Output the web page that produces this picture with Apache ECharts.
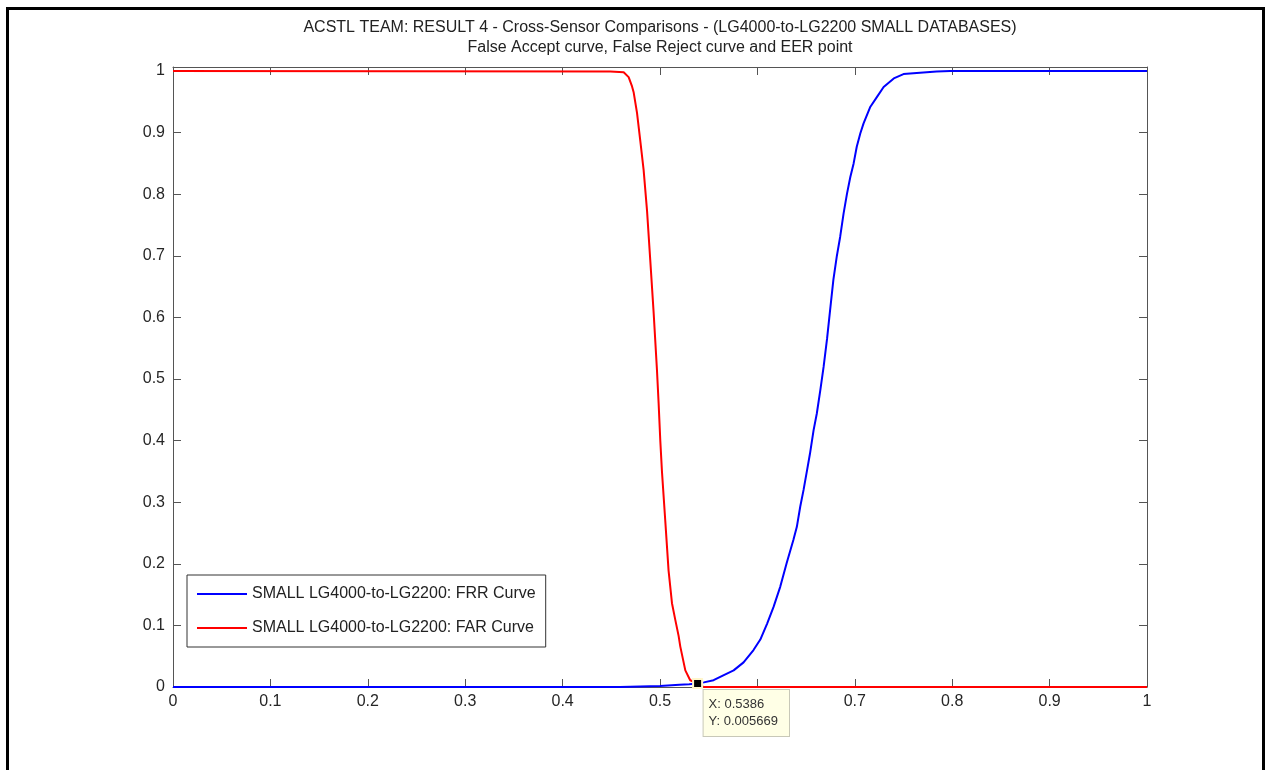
<!DOCTYPE html>
<html>
<head>
<meta charset="utf-8">
<script src="https://cdn.jsdelivr.net/npm/echarts@6/dist/echarts.min.js"></script>
<style>
  html, body { margin: 0; padding: 0; background: #fff; }
  #main { width: 1267px; height: 770px; }
</style>
</head>
<body>
<div id="main"></div>
<script>
    // FRR 曲线 (蓝)
    var frrX = [0, 0.459, 0.46, 0.5, 0.501, 0.52, 0.53, 0.5386, 0.545, 0.555, 0.565, 0.5756, 0.5858, 0.596, 0.603,
        0.61, 0.6166, 0.6235, 0.63, 0.637, 0.6405, 0.644, 0.6474, 0.651, 0.654, 0.6577, 0.661, 0.6646, 0.668,
        0.6715, 0.675, 0.678, 0.6815, 0.685, 0.6885, 0.692, 0.6954, 0.6988, 0.702, 0.7057, 0.709, 0.716, 0.7228,
        0.7296, 0.74, 0.75, 0.767, 0.784, 0.798, 1];
    var frrY = [0, 0, 0.0015, 0.0015, 0.003, 0.0035, 0.0045, 0.005669, 0.0075, 0.011, 0.019, 0.027, 0.04, 0.06, 0.077,
        0.103, 0.13, 0.163, 0.201, 0.239, 0.26, 0.293, 0.32, 0.352, 0.379, 0.417, 0.444, 0.482, 0.52,
        0.565, 0.617, 0.661, 0.699, 0.731, 0.769, 0.801, 0.828, 0.85, 0.877, 0.899, 0.915, 0.942, 0.958,
        0.974, 0.988, 0.995, 0.997, 0.999, 1, 1];

    // FAR 曲线 (红)
    var farX = [0, 0.449, 0.4627, 0.4678, 0.4713, 0.473, 0.4764, 0.4798, 0.4832, 0.4867, 0.49, 0.4935, 0.4969,
        0.4986, 0.5003, 0.502, 0.5054, 0.5088, 0.5123, 0.5157, 0.5191, 0.5208, 0.526, 0.531, 0.5386, 0.545, 1];
    var farY = [1, 0.999, 0.998, 0.99, 0.975, 0.965, 0.932, 0.886, 0.839, 0.773, 0.693, 0.607, 0.514,
        0.46, 0.4, 0.35, 0.27, 0.189, 0.136, 0.109, 0.083, 0.066, 0.027, 0.011, 0.005669, 0, 0];

    // EER 点
    var eerX = 0.5386;
    var eerY = 0.005669;

    var seriesNames = ["SMALL LG4000-to-LG2200: FRR Curve", "SMALL LG4000-to-LG2200: FAR Curve"];
    var titleLines = [
        "ACSTL TEAM: RESULT 4 - Cross-Sensor Comparisons - (LG4000-to-LG2200 SMALL DATABASES)",
        "False Accept curve, False Reject curve and EER point"
    ];

    function pairs(xs, ys) {
        return xs.map(function(x, i) { return [x, ys[i]]; });
    }

    var font = "'Liberation Sans', Arial, Helvetica, sans-serif";
    var axisColor = "#555555";
    var textColor = "#262626";

    var myChart = echarts.init(document.getElementById("main"));

    // 只显示 0.1 的整数倍刻度标签
    function tenthLabel(v) {
        var t = v * 10;
        if (Math.abs(t - Math.round(t)) > 1e-6) return "";
        return String(+v.toFixed(1));
    }

    var tickStyle = { show: true, inside: true, length: 8, lineStyle: { color: axisColor, width: 1 } };
    var lineStyleAxis = { show: true, onZero: false, lineStyle: { color: axisColor, width: 1 } };

    myChart.setOption({
        animation: false,
        backgroundColor: "#fff",
        title: {
            text: titleLines.join("\n"),
            left: 660,
            top: 18,
            padding: 0,
            textAlign: "center",
            textStyle: {
                fontFamily: font,
                fontSize: 16,
                fontWeight: "normal",
                color: "#222",
                lineHeight: 20,
            },
        },
        legend: {
            data: [
                { name: seriesNames[0], icon: "rect" },
                { name: seriesNames[1], icon: "rect" },
            ],
            orient: "vertical",
            left: 187,
            top: 575,
            padding: [11, 10, 11, 10],
            itemGap: 18,
            itemWidth: 50,
            itemHeight: 2,
            borderColor: "#333",
            borderWidth: 1,
            backgroundColor: "#fff",
            textStyle: { fontFamily: font, fontSize: 16, lineHeight: 16, color: "#222" },
        },
        grid: { left: 173, right: 120, top: 67, bottom: 83 },
        xAxis: [{
            type: "value",
            position: "bottom",
            min: 0,
            max: 1,
            interval: 0.1,
            z: 1,
            splitLine: { show: false },
            axisLine: lineStyleAxis,
            axisTick: tickStyle,
            axisLabel: { fontFamily: font, fontSize: 16, color: textColor, margin: 7, formatter: tenthLabel },
        }, {
            type: "value",
            position: "top",
            min: 0,
            max: 1,
            interval: 0.1,
            z: 1,
            splitLine: { show: false },
            axisLine: lineStyleAxis,
            axisTick: tickStyle,
            axisLabel: { show: false },
        }],
        yAxis: [{
            type: "value",
            position: "left",
            min: 0,
            max: 1.0065,
            interval: 0.1,
            z: 1,
            splitLine: { show: false },
            axisLine: lineStyleAxis,
            axisTick: tickStyle,
            axisLabel: { fontFamily: font, fontSize: 16, color: textColor, margin: 8, formatter: tenthLabel },
        }, {
            type: "value",
            position: "right",
            min: 0,
            max: 1.0065,
            interval: 0.1,
            z: 1,
            splitLine: { show: false },
            axisLine: lineStyleAxis,
            axisTick: tickStyle,
            axisLabel: { show: false },
        }],
        graphic: [{
            // 外框
            type: "rect",
            shape: { x: 7.5, y: 8.5, width: 1256, height: 800 },
            style: { fill: "none", stroke: "#000", lineWidth: 3 },
            silent: true,
        }],
        series: [{
            name: seriesNames[0],
            type: "line",
            data: pairs(frrX, frrY),
            symbol: "none",
            clip: false,
            lineStyle: { color: "#0000ff", width: 2 },
            itemStyle: { color: "#0000ff" },
            z: 2,
        }, {
            name: seriesNames[1],
            type: "line",
            data: pairs(farX, farY),
            symbol: "none",
            clip: false,
            lineStyle: { color: "#ff0000", width: 2 },
            itemStyle: { color: "#ff0000" },
            z: 3,
        }, {
            // EER 点和数据提示框，放在上层画布，盖住下面的刻度标签
            name: "EER",
            type: "scatter",
            data: [[eerX, eerY]],
            symbol: "rect",
            symbolSize: 9,
            clip: false,
            zlevel: 1,
            itemStyle: { color: "#000", borderColor: "#fff6cc", borderWidth: 2, opacity: 1 },
            label: {
                show: true,
                position: [11.5, 12],
                formatter: "X: " + eerX + "\nY: " + eerY,
                fontFamily: font,
                fontSize: 13,
                lineHeight: 17,
                color: "#333",
                backgroundColor: "#ffffe6",
                borderColor: "#c8c8b8",
                borderWidth: 1,
                padding: [6, 11, 6, 5],
            },
            z: 10,
        }],
    });

    window.addEventListener("resize", function() {
        myChart.resize();
    });
</script>
</body>
</html>
